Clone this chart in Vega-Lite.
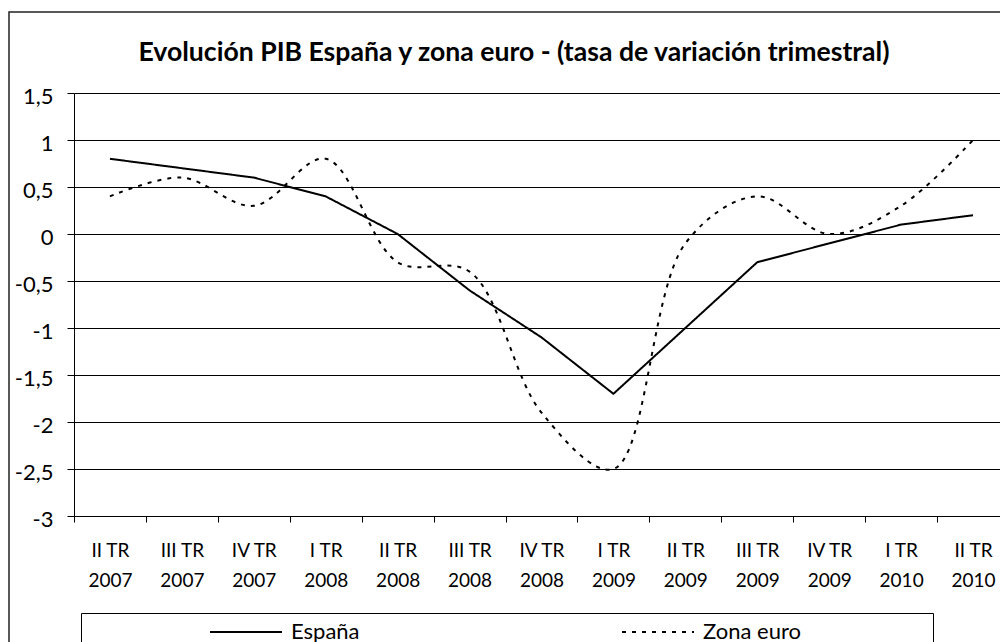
{
  "$schema": "https://vega.github.io/schema/vega-lite/v6.json",
  "autosize": {"type": "none"},
  "padding": {"left": 9, "top": 12, "right": 0, "bottom": 0},
  "width": 1010,
  "height": 650,
  "background": "white",
  "title": {
    "text": "Evolución PIB España y zona euro - (tasa de variación trimestral)",
    "font": "Lato", "fontSize": 26.6, "fontWeight": "bold", "color": "black",
    "anchor": "middle", "frame": "group", "offset": -55
  },
  "data": {
    "values": [
      {"trimestre": "II TR 2007", "serie": "España", "valor": 0.8},
      {"trimestre": "III TR 2007", "serie": "España", "valor": 0.7},
      {"trimestre": "IV TR 2007", "serie": "España", "valor": 0.6},
      {"trimestre": "I TR 2008", "serie": "España", "valor": 0.4},
      {"trimestre": "II TR 2008", "serie": "España", "valor": 0.0},
      {"trimestre": "III TR 2008", "serie": "España", "valor": -0.6},
      {"trimestre": "IV TR 2008", "serie": "España", "valor": -1.1},
      {"trimestre": "I TR 2009", "serie": "España", "valor": -1.7},
      {"trimestre": "II TR 2009", "serie": "España", "valor": -1.0},
      {"trimestre": "III TR 2009", "serie": "España", "valor": -0.3},
      {"trimestre": "IV TR 2009", "serie": "España", "valor": -0.1},
      {"trimestre": "I TR 2010", "serie": "España", "valor": 0.1},
      {"trimestre": "II TR 2010", "serie": "España", "valor": 0.2},
      {"trimestre": "II TR 2007", "serie": "Zona euro", "valor": 0.4},
      {"trimestre": "III TR 2007", "serie": "Zona euro", "valor": 0.6},
      {"trimestre": "IV TR 2007", "serie": "Zona euro", "valor": 0.3},
      {"trimestre": "I TR 2008", "serie": "Zona euro", "valor": 0.8},
      {"trimestre": "II TR 2008", "serie": "Zona euro", "valor": -0.3},
      {"trimestre": "III TR 2008", "serie": "Zona euro", "valor": -0.4},
      {"trimestre": "IV TR 2008", "serie": "Zona euro", "valor": -1.9},
      {"trimestre": "I TR 2009", "serie": "Zona euro", "valor": -2.5},
      {"trimestre": "II TR 2009", "serie": "Zona euro", "valor": -0.1},
      {"trimestre": "III TR 2009", "serie": "Zona euro", "valor": 0.4},
      {"trimestre": "IV TR 2009", "serie": "Zona euro", "valor": 0.0},
      {"trimestre": "I TR 2010", "serie": "Zona euro", "valor": 0.3},
      {"trimestre": "II TR 2010", "serie": "Zona euro", "valor": 1.0}
    ]
  },
  "encoding": {
    "x": {
      "field": "trimestre", "type": "ordinal", "sort": null, "title": null,
      "scale": {"type": "band", "range": [65, 1000], "paddingInner": 0, "paddingOuter": 0},
      "axis": {
        "orient": "bottom", "offset": -146, "grid": false,
        "domainColor": "black", "domainWidth": 1,
        "tickColor": "black", "tickSize": 6, "tickBand": "extent",
        "labelFont": "Lato", "labelFontSize": 19, "labelColor": "black",
        "labelAngle": 0, "labelPadding": 19, "labelLineHeight": 30,
        "labelOverlap": false,
        "labelExpr": "[slice(datum.label, 0, -5), slice(datum.label, -4)]"
      }
    },
    "y": {
      "field": "valor", "type": "quantitative", "title": null,
      "scale": {"domain": [-3, 1.5], "range": [504, 81], "nice": false, "zero": false},
      "axis": {
        "offset": -65,
        "values": [-3, -2.5, -2, -1.5, -1, -0.5, 0, 0.5, 1, 1.5],
        "grid": true, "gridColor": "black", "gridWidth": 1,
        "domainColor": "black", "tickColor": "black", "tickSize": 7,
        "labelFont": "Lato", "labelFontSize": 22, "labelColor": "black",
        "labelPadding": 14, "labelOffset": 3,
        "labelExpr": "replace(datum.value + '', '.', ',')"
      }
    },
    "strokeDash": {
      "field": "serie", "type": "nominal",
      "scale": {"domain": ["España", "Zona euro"], "range": [[1, 0], [4, 6]]},
      "legend": {
        "orient": "none", "legendX": 72, "legendY": 601,
        "direction": "horizontal", "columns": 2, "columnPadding": 258,
        "title": "\u00a0", "titleOrient": "left", "titleFontSize": 10, "titlePadding": 146,
        "strokeColor": "black", "padding": 8,
        "symbolType": "M-6,0H6", "symbolSize": 144, "symbolStrokeWidth": 2,
        "symbolStrokeColor": "black", "symbolFillColor": "transparent",
        "labelFont": "Lato", "labelFontSize": 22, "labelColor": "black",
        "labelOffset": 34, "labelLimit": 600,
        "labelExpr": "datum.label == 'Zona euro' ? datum.label + '\u00a0\u00a0\u00a0\u00a0\u00a0\u00a0\u00a0\u00a0\u00a0\u00a0\u00a0\u00a0\u00a0\u00a0\u00a0\u00a0\u00a0\u00a0\u00a0\u00a0\u00a0\u00a0\u200b' : datum.label"
      }
    }
  },
  "layer": [
    {
      "transform": [{"filter": "datum.serie == 'España'"}],
      "mark": {"type": "line", "color": "black", "strokeWidth": 2}
    },
    {
      "transform": [{"filter": "datum.serie == 'Zona euro'"}],
      "mark": {"type": "line", "color": "black", "strokeWidth": 2, "interpolate": "catmull-rom"}
    }
  ],
  "config": {
    "view": {"stroke": "#222", "strokeWidth": 1.5, "fill": "white"},
    "legend": {"strokeWidth": 1}
  }
}
